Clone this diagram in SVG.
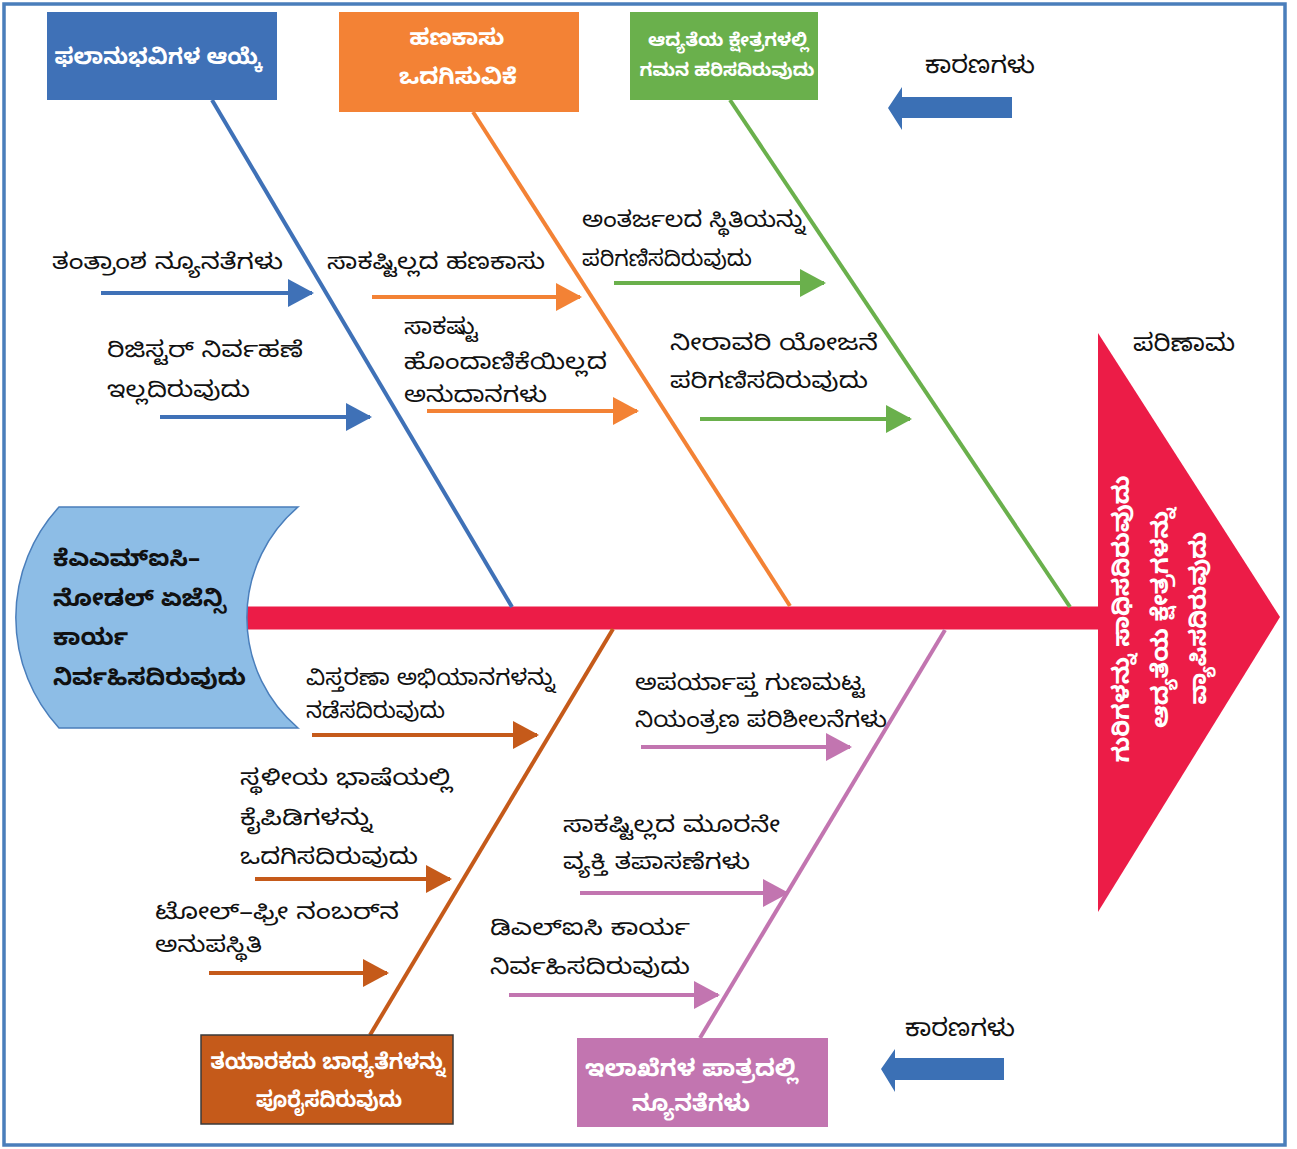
<svg xmlns="http://www.w3.org/2000/svg" width="1297" height="1149" viewBox="0 0 1297 1149">
<style>
text{font-family:"Noto Sans Kannada","Noto Sans",sans-serif;}
.lbl{font-size:22px;fill:#111;}
.big{font-size:24px;fill:#111;}
.box{font-size:22px;font-weight:bold;fill:#fff;text-anchor:middle;}
.tail{font-size:23px;font-weight:bold;fill:#111;}
.bone{stroke-width:4;fill:none;}
</style>
<defs>
<marker id="aB" markerWidth="7" markerHeight="7" refX="6" refY="3.5" orient="auto" markerUnits="strokeWidth"><path d="M0,0 L6.5,3.5 L0,7 Z" fill="#3F71B7"/></marker>
<marker id="aO" markerWidth="7" markerHeight="7" refX="6" refY="3.5" orient="auto" markerUnits="strokeWidth"><path d="M0,0 L6.5,3.5 L0,7 Z" fill="#F38235"/></marker>
<marker id="aG" markerWidth="7" markerHeight="7" refX="6" refY="3.5" orient="auto" markerUnits="strokeWidth"><path d="M0,0 L6.5,3.5 L0,7 Z" fill="#6AB04C"/></marker>
<marker id="aD" markerWidth="7" markerHeight="7" refX="6" refY="3.5" orient="auto" markerUnits="strokeWidth"><path d="M0,0 L6.5,3.5 L0,7 Z" fill="#C55A1A"/></marker>
<marker id="aP" markerWidth="7" markerHeight="7" refX="6" refY="3.5" orient="auto" markerUnits="strokeWidth"><path d="M0,0 L6.5,3.5 L0,7 Z" fill="#C275B0"/></marker>
</defs>
<rect x="0" y="0" width="1297" height="1149" fill="#fff"/>
<rect x="4" y="4" width="1281" height="1141" fill="none" stroke="#4A7EBB" stroke-width="3.5"/>

<g id="connectors">
<line x1="245" y1="618" x2="1100" y2="618" stroke="#EC1C47" stroke-width="23"/>
<line class="bone" x1="212" y1="100" x2="512" y2="607" stroke="#3F71B7"/>
<line class="bone" x1="473" y1="112" x2="790" y2="606" stroke="#F38235"/>
<line class="bone" x1="730" y1="100" x2="1070" y2="607" stroke="#6AB04C"/>
<line class="bone" x1="613" y1="629" x2="370" y2="1035" stroke="#C55A1A"/>
<line class="bone" x1="945" y1="630" x2="700" y2="1038" stroke="#C275B0"/>
<line class="bone" x1="101" y1="293" x2="312" y2="293" stroke="#3F71B7" marker-end="url(#aB)"/>
<line class="bone" x1="160" y1="417" x2="370" y2="417" stroke="#3F71B7" marker-end="url(#aB)"/>
<line class="bone" x1="372" y1="297" x2="580" y2="297" stroke="#F38235" marker-end="url(#aO)"/>
<line class="bone" x1="427" y1="411" x2="637" y2="411" stroke="#F38235" marker-end="url(#aO)"/>
<line class="bone" x1="614" y1="283" x2="824" y2="283" stroke="#6AB04C" marker-end="url(#aG)"/>
<line class="bone" x1="700" y1="419" x2="910" y2="419" stroke="#6AB04C" marker-end="url(#aG)"/>
<line class="bone" x1="312" y1="735" x2="537" y2="735" stroke="#C55A1A" marker-end="url(#aD)"/>
<line class="bone" x1="255" y1="879" x2="450" y2="879" stroke="#C55A1A" marker-end="url(#aD)"/>
<line class="bone" x1="209" y1="973" x2="387" y2="973" stroke="#C55A1A" marker-end="url(#aD)"/>
<line class="bone" x1="641" y1="747" x2="850" y2="747" stroke="#C275B0" marker-end="url(#aP)"/>
<line class="bone" x1="580" y1="893" x2="787" y2="893" stroke="#C275B0" marker-end="url(#aP)"/>
<line class="bone" x1="509" y1="995" x2="718" y2="995" stroke="#C275B0" marker-end="url(#aP)"/>
</g>

<g id="cause-beneficiary">
<rect x="47" y="12" width="230" height="88" fill="#3F71B7"/>
<text class="box" x="158" y="64" textLength="207" lengthAdjust="spacingAndGlyphs">ಫಲಾನುಭವಿಗಳ ಆಯ್ಕೆ</text>
</g>
<g id="cause-funding">
<rect x="339" y="12" width="240" height="100" fill="#F38235"/>
<text class="box" x="457" y="45" textLength="95" lengthAdjust="spacingAndGlyphs">ಹಣಕಾಸು</text>
<text class="box" x="458" y="84" textLength="118" lengthAdjust="spacingAndGlyphs">ಒದಗಿಸುವಿಕೆ</text>
</g>
<g id="cause-priority">
<rect x="630" y="12" width="188" height="88" fill="#6AB04C"/>
<text class="box" x="728" y="46" style="font-size:18px" textLength="160" lengthAdjust="spacingAndGlyphs">ಆದ್ಯತೆಯ ಕ್ಷೇತ್ರಗಳಲ್ಲಿ</text>
<text class="box" x="727" y="76" style="font-size:18px" textLength="175" lengthAdjust="spacingAndGlyphs">ಗಮನ ಹರಿಸದಿರುವುದು</text>
</g>
<g id="cause-manufacturer">
<rect x="201" y="1035" width="252" height="89" fill="#C55A1A" stroke="#3a3a3a" stroke-width="1.5"/>
<text class="box" x="328" y="1069" textLength="235" lengthAdjust="spacingAndGlyphs">ತಯಾರಕದು ಬಾಧ್ಯತೆಗಳನ್ನು</text>
<text class="box" x="329" y="1107" textLength="146" lengthAdjust="spacingAndGlyphs">ಪೂರೈಸದಿರುವುದು</text>
</g>
<g id="cause-departments">
<rect x="577" y="1038" width="251" height="89" fill="#C275B0"/>
<text class="box" x="691" y="1076" style="font-size:23px" textLength="212" lengthAdjust="spacingAndGlyphs">ಇಲಾಖೆಗಳ ಪಾತ್ರದಲ್ಲಿ</text>
<text class="box" x="691" y="1111" style="font-size:23px" textLength="118" lengthAdjust="spacingAndGlyphs">ನ್ಯೂನತೆಗಳು</text>
</g>

<g id="tail">
<path d="M59,507 L298,507 A145,145 0 0 0 298,728 L59,728 A163,163 0 0 1 59,507 Z" fill="#8DBDE6" stroke="#4A7EBB" stroke-width="1.5"/>
<text class="tail" x="53" y="566" textLength="147" lengthAdjust="spacingAndGlyphs">ಕೆಎಎಮ್‌ಐಸಿ–</text>
<text class="tail" x="53" y="606" textLength="173" lengthAdjust="spacingAndGlyphs">ನೋಡಲ್ ಏಜೆನ್ಸಿ</text>
<text class="tail" x="53" y="645" textLength="75" lengthAdjust="spacingAndGlyphs">ಕಾರ್ಯ</text>
<text class="tail" x="53" y="685" textLength="193" lengthAdjust="spacingAndGlyphs">ನಿರ್ವಹಿಸದಿರುವುದು</text>
</g>

<g id="head">
<path d="M1098,333 L1280,617 L1098,912 Z" fill="#EC1C47"/>
<text class="box" style="font-size:23px" transform="translate(1129,619) rotate(-90)" x="0" y="0" textLength="287" lengthAdjust="spacingAndGlyphs">ಗುರಿಗಳನ್ನು ಸಾಧಿಸದಿರುವುದು</text>
<text class="box" style="font-size:23px" transform="translate(1168,618) rotate(-90)" x="0" y="0" textLength="220" lengthAdjust="spacingAndGlyphs">ಆದ್ಯತೆಯ ಕ್ಷೇತ್ರಗಳನ್ನು</text>
<text class="box" style="font-size:23px" transform="translate(1206,618) rotate(-90)" x="0" y="0" textLength="173" lengthAdjust="spacingAndGlyphs">ವ್ಯಾಪಿಸದಿರುವುದು</text>
<text class="big" x="1133" y="351" textLength="102" lengthAdjust="spacingAndGlyphs">ಪರಿಣಾಮ</text>
</g>

<g id="legend-top">
<text class="big" x="925" y="73" textLength="110" lengthAdjust="spacingAndGlyphs">ಕಾರಣಗಳು</text>
<path d="M888,108 L902,87 L902,97 L1012,97 L1012,118 L902,118 L902,130 Z" fill="#3B70B5"/>
</g>
<g id="legend-bottom">
<text class="big" x="905" y="1036" textLength="110" lengthAdjust="spacingAndGlyphs">ಕಾರಣಗಳು</text>
<path d="M881,1069 L895,1049 L895,1058 L1004,1058 L1004,1080 L895,1080 L895,1092 Z" fill="#3B70B5"/>
</g>

<g id="sub-software"><text class="lbl" x="52" y="269" textLength="231" lengthAdjust="spacingAndGlyphs">ತಂತ್ರಾಂಶ ನ್ಯೂನತೆಗಳು</text></g>
<g id="sub-register"><text class="lbl" x="107" y="357" textLength="196" lengthAdjust="spacingAndGlyphs">ರಿಜಿಸ್ಟರ್ ನಿರ್ವಹಣೆ</text><text class="lbl" x="107" y="397" textLength="143" lengthAdjust="spacingAndGlyphs">ಇಲ್ಲದಿರುವುದು</text></g>
<g id="sub-insufficient-funds"><text class="lbl" x="327" y="269" textLength="218" lengthAdjust="spacingAndGlyphs">ಸಾಕಷ್ಟಿಲ್ಲದ ಹಣಕಾಸು</text></g>
<g id="sub-grants"><text class="lbl" x="404" y="334" textLength="74" lengthAdjust="spacingAndGlyphs">ಸಾಕಷ್ಟು</text><text class="lbl" x="404" y="369" textLength="203" lengthAdjust="spacingAndGlyphs">ಹೊಂದಾಣಿಕೆಯಿಲ್ಲದ</text><text class="lbl" x="404" y="402" textLength="143" lengthAdjust="spacingAndGlyphs">ಅನುದಾನಗಳು</text></g>
<g id="sub-groundwater"><text class="lbl" x="582" y="227" textLength="223" lengthAdjust="spacingAndGlyphs">ಅಂತರ್ಜಲದ ಸ್ಥಿತಿಯನ್ನು</text><text class="lbl" x="582" y="266" textLength="170" lengthAdjust="spacingAndGlyphs">ಪರಿಗಣಿಸದಿರುವುದು</text></g>
<g id="sub-irrigation"><text class="lbl" x="670" y="350" textLength="208" lengthAdjust="spacingAndGlyphs">ನೀರಾವರಿ ಯೋಜನೆ</text><text class="lbl" x="670" y="388" textLength="198" lengthAdjust="spacingAndGlyphs">ಪರಿಗಣಿಸದಿರುವುದು</text></g>
<g id="sub-extension"><text class="lbl" x="306" y="685" textLength="249" lengthAdjust="spacingAndGlyphs">ವಿಸ್ತರಣಾ ಅಭಿಯಾನಗಳನ್ನು</text><text class="lbl" x="306" y="718" textLength="139" lengthAdjust="spacingAndGlyphs">ನಡೆಸದಿರುವುದು</text></g>
<g id="sub-manuals"><text class="lbl" x="240" y="785" textLength="212" lengthAdjust="spacingAndGlyphs">ಸ್ಥಳೀಯ ಭಾಷೆಯಲ್ಲಿ</text><text class="lbl" x="240" y="825" textLength="132" lengthAdjust="spacingAndGlyphs">ಕೈಪಿಡಿಗಳನ್ನು</text><text class="lbl" x="240" y="864" textLength="178" lengthAdjust="spacingAndGlyphs">ಒದಗಿಸದಿರುವುದು</text></g>
<g id="sub-tollfree"><text class="lbl" x="155" y="919" textLength="244" lengthAdjust="spacingAndGlyphs">ಟೋಲ್–ಫ್ರೀ ನಂಬರ್‌ನ</text><text class="lbl" x="155" y="952" textLength="107" lengthAdjust="spacingAndGlyphs">ಅನುಪಸ್ಥಿತಿ</text></g>
<g id="sub-quality"><text class="lbl" x="635" y="690" textLength="230" lengthAdjust="spacingAndGlyphs">ಅಪರ್ಯಾಪ್ತ ಗುಣಮಟ್ಟ</text><text class="lbl" x="635" y="727" textLength="252" lengthAdjust="spacingAndGlyphs">ನಿಯಂತ್ರಣ ಪರಿಶೀಲನೆಗಳು</text></g>
<g id="sub-thirdparty"><text class="lbl" x="563" y="832" textLength="217" lengthAdjust="spacingAndGlyphs">ಸಾಕಷ್ಟಿಲ್ಲದ ಮೂರನೇ</text><text class="lbl" x="563" y="869" textLength="187" lengthAdjust="spacingAndGlyphs">ವ್ಯಕ್ತಿ ತಪಾಸಣೆಗಳು</text></g>
<g id="sub-dlic"><text class="lbl" x="490" y="935" textLength="200" lengthAdjust="spacingAndGlyphs">ಡಿಎಲ್‌ಐಸಿ ಕಾರ್ಯ</text><text class="lbl" x="490" y="974" textLength="200" lengthAdjust="spacingAndGlyphs">ನಿರ್ವಹಿಸದಿರುವುದು</text></g>
</svg>
